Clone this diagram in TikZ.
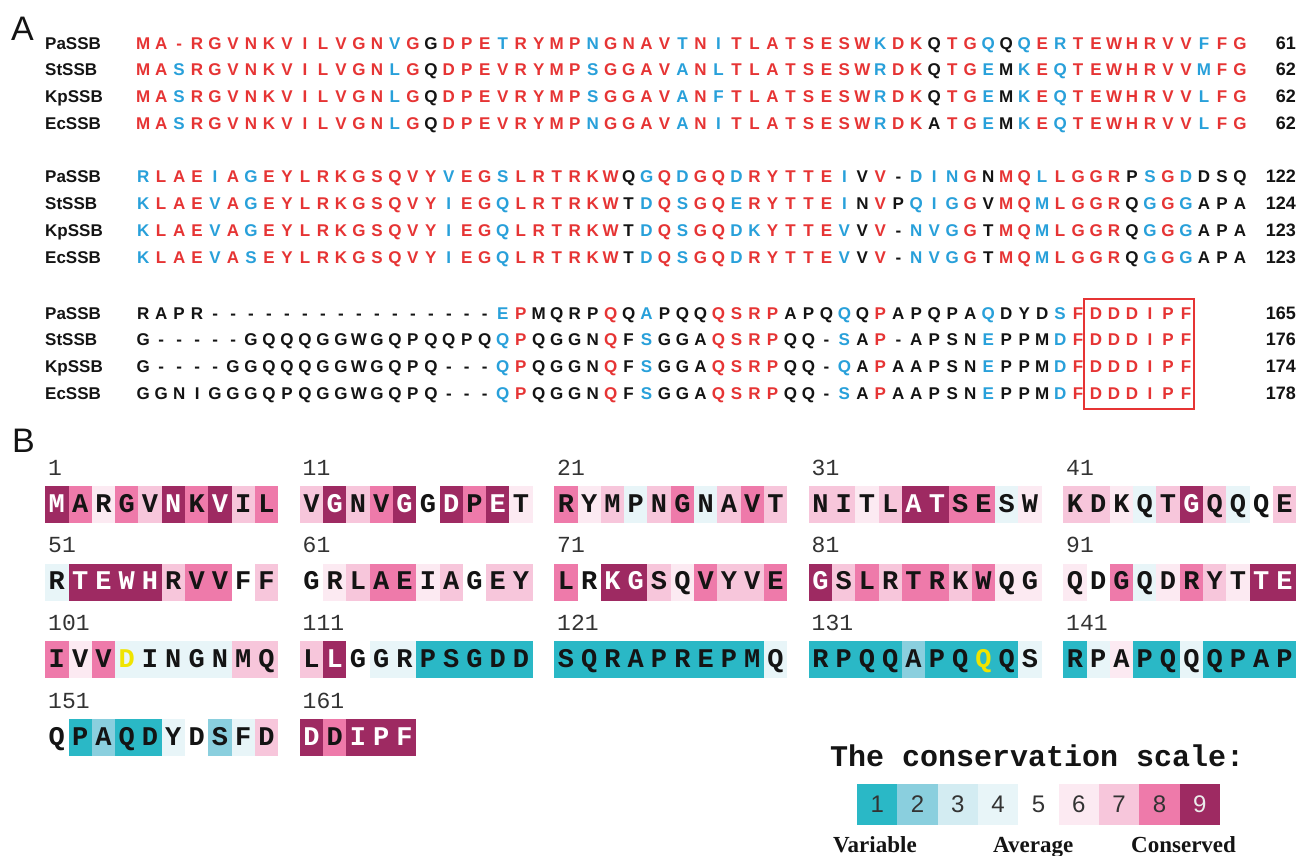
\documentclass[tikz,border=0pt]{standalone}
\usepackage{fontspec}
\setmainfont{Liberation Sans}
\newfontfamily\monof{Liberation Mono}
\newfontfamily\tnrf{Liberation Serif}
\definecolor{cr}{RGB}{230,52,52}
\definecolor{cb}{RGB}{40,160,218}
\definecolor{ck}{RGB}{20,20,20}
\definecolor{g1}{RGB}{42,184,198}
\definecolor{g2}{RGB}{138,207,222}
\definecolor{g3}{RGB}{211,236,242}
\definecolor{g4}{RGB}{232,245,248}
\definecolor{g5}{RGB}{255,255,255}
\definecolor{g6}{RGB}{252,234,242}
\definecolor{g7}{RGB}{247,198,219}
\definecolor{g8}{RGB}{238,122,170}
\definecolor{g9}{RGB}{158,42,98}
\colorlet{gy}{g4}
\colorlet{gz}{g1}
\colorlet{t1}{ck}\colorlet{t2}{ck}\colorlet{t3}{ck}\colorlet{t4}{ck}
\colorlet{t5}{ck}\colorlet{t6}{ck}\colorlet{t7}{ck}\colorlet{t8}{ck}
\colorlet{t9}{white}
\definecolor{ty}{RGB}{240,228,0}
\colorlet{tz}{ty}
\colorlet{s1}{black!80}\colorlet{s2}{black!80}\colorlet{s3}{black!80}
\colorlet{s4}{black!80}\colorlet{s5}{black!80}\colorlet{s6}{black!80}
\colorlet{s7}{black!80}\colorlet{s8}{black!80}\colorlet{s9}{white!92!black}
\newlength\colw \setlength\colw{17.98pt}
% letters string ; colour-codes string ; (both end with .)
\def\seqloop#1#2;#3#4;{%
  \ifx.#1\let\next\relax
  \else\def\next{\makebox[\colw][c]{\color{c#3}#1}\seqloop#2;#4;}\fi
  \next}
\newcommand\cellbox[2]{{\fboxsep=0pt\colorbox{g#1}{\rule[-11pt]{0pt}{37pt}\makebox[23.3pt][c]{\color{t#1}#2}}}}
\def\cellloop#1#2;#3#4;{%
  \ifx.#1\let\next\relax
  \else\def\next{\cellbox{#3}{#1}\cellloop#2;#4;}\fi
  \next}
\usetikzlibrary{positioning}
\tikzset{
  seqA/.style={font=\fontsize{17}{19}\selectfont\bfseries, inner sep=0pt, anchor=base west},
  lab/.style={font=\fontsize{17}{19}\selectfont\bfseries, inner sep=0pt, anchor=base west, text=ck},
  numA/.style={font=\fontsize{18}{20}\selectfont\bfseries, inner sep=0pt, anchor=base east, text=ck},
  panel/.style={font=\fontsize{34}{36}\selectfont, inner sep=0pt, anchor=base west, text=ck},
  bcell/.style={font=\monof\bfseries\fontsize{27}{29}\selectfont, inner sep=0pt, anchor=base west},
  bnum/.style={font=\monof\fontsize{23}{25}\selectfont, inner sep=0pt, anchor=base west, text=black!80},
  sbox/.style={minimum width=40.33pt, minimum height=41pt, inner sep=0pt, font=\fontsize{24}{26}\selectfont},
  slab/.style={font=\tnrf\bfseries\fontsize{23}{25}\selectfont, inner sep=0pt, anchor=base west, text=ck}
}
\newcommand\arow[6]{%
  \node[lab] (#1l) at (45,#2) {#3};
  \node[seqA] (#1) at (134,#2) {\seqloop#4.;#5.;};
  \node[numA] (#1n) at (1296,#2) {#6};}
\newcommand\brow[6]{%
  \node[bnum] (#1n) at (#2+3,#3-11) {#4};
  \node[bcell] (#1) at (#2,#3+26) {\cellloop#5.;#6.;};}
\begin{document}
\begin{tikzpicture}[x=1pt,y=-1pt]
\useasboundingbox (0,0) rectangle (1299,855);
\fill[white] (0,0) rectangle (1299,855);
% ---------- Panel A ----------
\node[panel] (labA) at (11,40) {A};
% block 1
\arow{a1}{49}{PaSSB}{MA-RGVNKVI LVGNVGGDPE TRYMPNGNAV TNITLATSES WKDKQTGQQQ ERTEWHRVVF FG}{rrrrrrrrrr rrrrbrkrrr brrrrbrrrr brbrrrrrrr rbrrkrrbkb rbrrrrrrrb rr}{61}
\arow{a2}{75}{StSSB}{MASRGVNKVI LVGNLGQDPE VRYMPSGGAV ANLTLATSES WRDKQTGEMK EQTEWHRVVM FG}{rrbrrrrrrr rrrrbrkrrr rrrrrbrrrr brbrrrrrrr rbrrkrrbkb rbrrrrrrrb rr}{62}
\arow{a3}{102}{KpSSB}{MASRGVNKVI LVGNLGQDPE VRYMPSGGAV ANFTLATSES WRDKQTGEMK EQTEWHRVVL FG}{rrbrrrrrrr rrrrbrkrrr rrrrrbrrrr brbrrrrrrr rbrrkrrbkb rbrrrrrrrb rr}{62}
\arow{a4}{129}{EcSSB}{MASRGVNKVI LVGNLGQDPE VRYMPNGGAV ANITLATSES WRDKATGEMK EQTEWHRVVL FG}{rrbrrrrrrr rrrrbrkrrr rrrrrbrrrr brbrrrrrrr rbrrkrrbkb rbrrrrrrrb rr}{62}
% block 2
\arow{b1}{182}{PaSSB}{RLAEIAGEYL RKGSQVYVEG SLRTRKWQGQ DGQDRYTTEI VV-DINGNMQ LLGGRPSGDD SQ}{brrrbrbrrr rrrrrrrbrr brrrrrrkbr brrbrrrrrb krkbbbrkrr brrrrkbrbk kk}{122}
\arow{b2}{209}{StSSB}{KLAEVAGEYL RKGSQVYIEG QLRTRKWTDQ SGQERYTTEI NVPQIGGVMQ MLGGRQGGGA PA}{brrrbrbrrr rrrrrrrbrr brrrrrrkbr brrbrrrrrb krkbbbrkrr brrrrkbrbk kk}{124}
\arow{b3}{236}{KpSSB}{KLAEVAGEYL RKGSQVYIEG QLRTRKWTDQ SGQDKYTTEV VV-NVGGTMQ MLGGRQGGGA PA}{brrrbrbrrr rrrrrrrbrr brrrrrrkbr brrbbrrrrb krkbbbrkrr brrrrkbrbk kk}{123}
\arow{b4}{263}{EcSSB}{KLAEVASEYL RKGSQVYIEG QLRTRKWTDQ SGQDRYTTEV VV-NVGGTMQ MLGGRQGGGA PA}{brrrbrbrrr rrrrrrrbrr brrrrrrkbr brrbrrrrrb krkbbbrkrr brrrrkbrbk kk}{123}
% block 3
\arow{c1}{319}{PaSSB}{RAPR------ ---------- EPMQRPQQAP QQQSRPAPQQ QPAPQPAQDY DSFDDDIPF}{kkkkkkkkkk kkkkkkkkkk brkkkkrkbk kkrrrrkkkb krkkkkkbkk kbrrrrrrr}{165}
\arow{c2}{345}{StSSB}{G-----GQQQ GGWGQPQQPQ QPQGGNQFSG GAQSRPQQ-S AP-APSNEPP MDFDDDIPF}{kkkkkkkkkk kkkkkkkkkk brkkkkrkbk kkrrrrkkkb krkkkkkbkk kbrrrrrrr}{176}
\arow{c3}{372}{KpSSB}{G----GGQQQ GGWGQPQ--- QPQGGNQFSG GAQSRPQQ-Q APAAPSNEPP MDFDDDIPF}{kkkkkkkkkk kkkkkkkkkk brkkkkrkbk kkrrrrkkkb krkkkkkbkk kbrrrrrrr}{174}
\arow{c4}{399}{EcSSB}{GGNIGGGQPQ GGWGQPQ--- QPQGGNQFSG GAQSRPQQ-S APAAPSNEPP MDFDDDIPF}{kkkkkkkkkk kkkkkkkkkk brkkkkrkbk kkrrrrkkkb krkkkkkbkk kbrrrrrrr}{178}
\node[draw=cr, line width=1.8pt, minimum width=110pt, minimum height=110pt, inner sep=0pt, anchor=north west] (motif) at (1083,298) {};
% ---------- Panel B ----------
\node[panel] (labB) at (12,452) {B};
% row 1
\brow{r1a}{45}{486}{1}{MARGVNKVIL}{9868798978}
\brow{r1b}{299.5}{486}{11}{VGNVGGDPET}{7978959896}
\brow{r1c}{554}{486}{21}{RYMPNGNAVT}{8674784787}
\brow{r1d}{808.5}{486}{31}{NITLATSESW}{7767998846}
\brow{r1e}{1063}{486}{41}{KDKQTGQQQE}{7764797457}
% row 2
\brow{r2a}{45}{563.7}{51}{RTEWHRVVFF}{4999978857}
\brow{r2b}{299.5}{563.7}{61}{GRLAEIAGEY}{5678867577}
\brow{r2c}{554}{563.7}{71}{LRKGSQVYVE}{8599768778}
\brow{r2d}{808.5}{563.7}{81}{GSLRTRKWQG}{9787887866}
\brow{r2e}{1063}{563.7}{91}{QDGQDRYTTE}{6584687699}
% row 3
\brow{r3a}{45}{641.4}{101}{IVVDINGNMQ}{868y444477}
\brow{r3b}{299.5}{641.4}{111}{LLGGRPSGDD}{7954411111}
\brow{r3c}{554}{641.4}{121}{SQRAPREPMQ}{1111111114}
\brow{r3d}{808.5}{641.4}{131}{RPQQAPQQQS}{1111211z14}
\brow{r3e}{1063}{641.4}{141}{RPAPQQQPAP}{1461141111}
% row 4
\brow{r4a}{45}{719.1}{151}{QPAQDYDSFD}{5121145247}
\brow{r4b}{299.5}{719.1}{161}{DDIPF}{98999}
% ---------- scale ----------
\node[font=\monof\bfseries\fontsize{30}{32}\selectfont, anchor=base west, inner sep=0pt, text=ck] (sctitle) at (830,766) {The conservation scale:};
\foreach \i in {1,...,9}{
  \node[sbox, fill=g\i, text=s\i] (s\i) at ({877.17+(\i-1)*40.33},804.5) {\i};
}
\node[slab] (lvar) at (833,852) {Variable};
\node[slab] (lavg) at (993,852) {Average};
\node[slab] (lcon) at (1131,852) {Conserved};
\end{tikzpicture}
\end{document}
